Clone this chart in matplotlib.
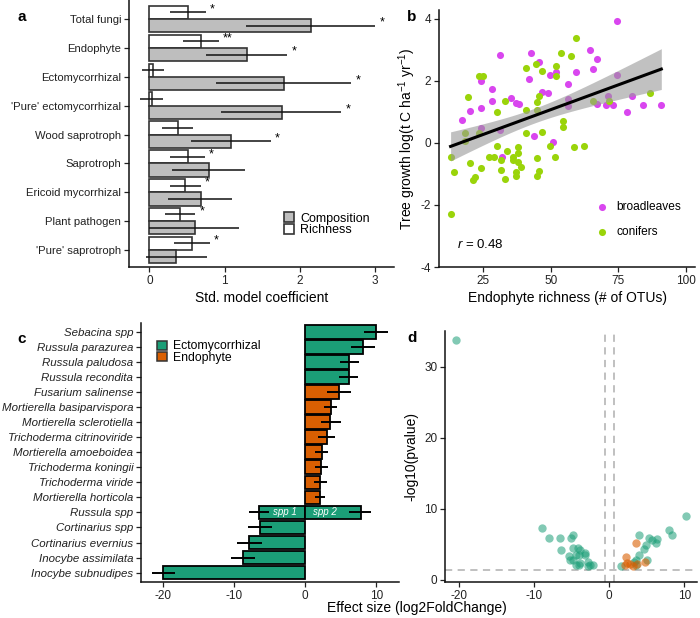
import matplotlib
matplotlib.use('Agg')
import matplotlib.pyplot as plt
import numpy as np
from matplotlib.patches import Patch

plt.rcParams.update({
    'font.family': ['Liberation Sans', 'DejaVu Sans'],
    'axes.unicode_minus': False,
    'mathtext.fontset': 'custom',
    'mathtext.rm': 'Liberation Sans',
    'mathtext.it': 'Liberation Sans:italic',
})

# ---- panel a: standardised model coefficients
groups = ['Total fungi', 'Endophyte', 'Ectomycorrhizal', "'Pure' ectomycorrhizal",
          'Wood saprotroph', 'Saprotroph', 'Ericoid mycorrhizal', 'Plant pathogen',
          "'Pure' saprotroph"]
rich = [0.52, 0.69, 0.05, 0.03, 0.38, 0.51, 0.47, 0.41, 0.57]
rich_lo = [0.28, 0.45, -0.10, -0.12, 0.17, 0.28, 0.27, 0.21, 0.33]
rich_hi = [0.75, 0.92, 0.20, 0.18, 0.58, 0.74, 0.68, 0.61, 0.80]
rich_sig = ['*', '**', '', '', '', '*', '*', '*', '*']
comp = [2.15, 1.30, 1.79, 1.76, 1.09, 0.79, 0.69, 0.61, 0.36]
comp_lo = [1.29, 0.75, 0.89, 0.95, 0.55, 0.30, 0.25, 0.00, -0.05]
comp_hi = [3.00, 1.83, 2.68, 2.55, 1.61, 1.27, 1.10, 1.19, 0.77]
comp_sig = ['*', '*', '*', '*', '*', '', '', '', '']

# ---- panel b: tree growth vs endophyte richness
broad_x = [74.4, 64.4, 42.7, 31.0, 45.7, 65.6, 67.3, 51.8, 59.5, 49.6, 74.4, 41.8, 24.1,
           56.5, 28.0, 46.8, 48.9, 35.1, 28.0, 56.5, 37.0, 38.2, 56.5, 67.3, 70.4, 73.2,
           71.3, 80.0, 84.3, 91.0, 78.4, 24.1, 20.0, 17.2, 24.1, 31.0, 43.8, 50.7, 31.8]
broad_y = [3.95, 3.0, 2.9, 2.85, 2.6, 2.4, 2.7, 2.3, 2.3, 2.2, 2.2, 2.05, 2.0,
           1.9, 1.75, 1.65, 1.6, 1.45, 1.35, 1.43, 1.29, 1.25, 1.18, 1.25, 1.23, 1.23,
           1.5, 1.5, 1.23, 1.23, 1.0, 1.12, 1.02, 0.75, 0.49, 0.41, 0.24, 0.03, -0.44]
conif_x = [59.5, 53.6, 57.5, 40.9, 44.5, 51.8, 46.8, 51.8, 23.2, 25.0, 86.9, 71.6, 65.5,
           19.3, 32.9, 45.7, 44.8, 30.2, 40.9, 44.8, 54.6, 54.6, 18.0, 23.2, 18.0, 40.9,
           46.7, 12.8, 29.9, 49.8, 58.5, 62.4, 37.9, 33.9, 37.9, 27.1, 29.0, 36.0, 44.8,
           51.6, 31.6, 36.0, 37.8, 20.0, 24.1, 38.9, 31.6, 45.7, 37.0, 44.8, 14.1, 21.9,
           21.1, 32.9, 37.0, 12.8]
conif_y = [3.4, 2.9, 2.8, 2.43, 2.55, 2.48, 2.31, 2.15, 2.15, 2.15, 1.6, 1.37, 1.37,
           1.48, 1.37, 1.53, 1.32, 1.0, 1.05, 1.05, 0.72, 0.53, 0.31, 0.31, 0.08, 0.31,
           0.37, -0.44, -0.1, -0.1, -0.14, -0.1, -0.14, -0.27, -0.33, -0.44, -0.44, -0.44, -0.49,
           -0.44, -0.54, -0.54, -0.6, -0.63, -0.82, -0.77, -0.88, -0.9, -0.95, -1.05, -0.93, -1.11,
           -1.19, -1.15, -1.06, -2.3]

# ---- panel c: differential abundance
species = ['Sebacina spp', 'Russula parazurea', 'Russula paludosa', 'Russula recondita',
           'Fusarium salinense', 'Mortierella basiparvispora', 'Mortierella sclerotiella',
           'Trichoderma citrinoviride', 'Mortierella amoeboidea', 'Trichoderma koningii',
           'Trichoderma viride', 'Mortierella horticola', 'Russula spp', 'Cortinarius spp',
           'Cortinarius evernius', 'Inocybe assimilata', 'Inocybe subnudipes']
bar_species = species[:12] + ['Russula spp', 'Russula spp'] + species[13:]
bar_tag = [''] * 12 + ['spp 1', 'spp 2'] + [''] * 4
bar_lfc = [10.0, 8.1, 6.2, 6.1, 4.8, 3.6, 3.5, 3.0, 2.3, 2.2, 2.1, 2.1,
           -6.5, 7.8, -6.4, -7.9, -8.8, -20.0]
bar_lo = [8.3, 6.4, 4.9, 4.7, 3.1, 2.7, 2.2, 1.8, 1.4, 1.4, 1.3, 1.4,
          -7.9, 6.2, -8.0, -9.6, -10.5, -21.6]
bar_hi = [11.6, 9.8, 7.6, 7.5, 6.5, 4.5, 5.0, 4.2, 3.2, 3.2, 3.1, 2.8,
          -5.1, 9.2, -4.7, -6.1, -7.1, -18.3]
bar_guild = ['Ectomycorrhizal'] * 4 + ['Endophyte'] * 8 + ['Ectomycorrhizal'] * 6

# ---- panel d: volcano plot
ecm_lfc = [-20.4, 10.2, -9.0, -8.0, -6.6, -6.5, -5.1, -4.8, -4.8, -4.2, -3.9, -3.2, -3.2,
           -5.4, -5.2, -4.5, -4.1, -4.9, -3.9, -4.4, -4.1, -2.9, -2.9, -2.2, -2.6,
           3.9, 5.3, 5.7, 6.3, 6.2, 7.9, 8.3, 4.9, 4.6, 4.0, 3.6, 3.3, 5.0, 1.5, 3.6]
ecm_p = [33.8, 9.0, 7.2, 5.8, 5.9, 4.1, 5.8, 6.2, 4.5, 4.5, 4.1, 3.8, 3.5,
         3.3, 2.8, 3.5, 3.5, 2.7, 2.3, 2.0, 2.0, 2.5, 1.9, 2.0, 2.0,
         6.2, 5.8, 5.6, 5.7, 5.2, 7.0, 6.2, 4.9, 4.3, 3.4, 2.8, 2.5, 2.8, 1.9, 2.0]
endo_lfc = [3.6, 2.2, 2.3, 2.7, 3.1, 3.7, 4.8, 2.1]
endo_p = [5.2, 3.2, 2.3, 2.2, 1.9, 2.2, 2.5, 2.0]

guild_col = {'Ectomycorrhizal': '#1B9E77', 'Endophyte': '#D95F02'}
tick_col = '#222222'

fig = plt.figure(figsize=(7, 6.18), dpi=100)
W, H = 700, 618


def add_ax(l, t, r, b):
    return fig.add_axes([l / W, 1 - b / H, (r - l) / W, (b - t) / H])


def classic(ax):
    for s in ['top', 'right']:
        ax.spines[s].set_visible(False)
    for s in ['left', 'bottom']:
        ax.spines[s].set_linewidth(1.1)
        ax.spines[s].set_color('#111111')
    ax.tick_params(labelsize=8.5, length=3.5, width=0.9, colors=tick_col, pad=2)


# ---------------- a
ax = add_ax(129, 0, 394, 267)
classic(ax)
pos = np.arange(len(groups))
h = 0.46
ax.barh(pos - h / 2, rich, h, color='white', edgecolor='#333333', linewidth=1.2)
ax.barh(pos + h / 2, comp, h, color='#BEBEBE', edgecolor='#333333', linewidth=1.2)
ax.hlines(pos - h / 2, rich_lo, rich_hi, color='#111111', lw=1.1)
ax.hlines(pos + h / 2, comp_lo, comp_hi, color='#111111', lw=1.1)
for i in range(len(groups)):
    if rich_sig[i]:
        ax.annotate(rich_sig[i], (rich_hi[i], pos[i] - h / 2), xytext=(3, 2),
                    textcoords='offset points', fontsize=9, va='center', ha='left')
    if comp_sig[i]:
        ax.annotate(comp_sig[i], (comp_hi[i], pos[i] + h / 2), xytext=(3, 2),
                    textcoords='offset points', fontsize=9, va='center', ha='left')
ax.set_yticks(pos)
ax.set_yticklabels(groups, fontsize=8.1)
ax.set_ylim(8.59, -0.66)
ax.set_xlim(-0.27, 3.25)
ax.set_xticks([0, 1, 2, 3])
ax.set_xlabel('Std. model coefficient', fontsize=10, labelpad=3)
ax.legend(handles=[Patch(facecolor='#BEBEBE', edgecolor='#333333', lw=1.2, label='Composition'),
                   Patch(facecolor='white', edgecolor='#333333', lw=1.2, label='Richness')],
          loc='center left', bbox_to_anchor=(0.56, 0.16), frameon=False, fontsize=9,
          handlelength=0.8, handleheight=0.8, handletextpad=0.5, labelspacing=-0.05,
          borderpad=0)

# ---------------- b
ax = add_ax(439, 10, 695, 267)
classic(ax)
ax.scatter(broad_x, broad_y, s=26, color='#D946EF', linewidths=0, zorder=2, label='broadleaves')
ax.scatter(conif_x, conif_y, s=26, color='#9AD40A', linewidths=0, zorder=2, label='conifers')
xa = np.array(broad_x + conif_x)
ya = np.array(broad_y + conif_y)
n = len(xa)
slope, icpt = np.polyfit(xa, ya, 1)
xs = np.linspace(xa.min(), xa.max(), 100)
yfit = icpt + slope * xs
resid = ya - (icpt + slope * xa)
se_r = np.sqrt(np.sum(resid ** 2) / (n - 2))
se_fit = se_r * np.sqrt(1 / n + (xs - xa.mean()) ** 2 / np.sum((xa - xa.mean()) ** 2))
ax.fill_between(xs, yfit - 1.99 * se_fit, yfit + 1.99 * se_fit, color='#999999', alpha=0.6,
                linewidth=0, zorder=3)
ax.plot(xs, yfit, color='black', lw=2.2, zorder=4)
ax.set_xlim(8.5, 103.5)
ax.set_ylim(-4, 4.29)
ax.set_xticks([25, 50, 75, 100])
ax.set_yticks([-4, -2, 0, 2, 4])
ax.set_xlabel('Endophyte richness (# of OTUs)', fontsize=10, labelpad=3)
ax.set_ylabel('Tree growth log(t C ha$^{\\mathrm{-1}}$ yr$^{\\mathrm{-1}}$)', fontsize=10, labelpad=2)
ax.text(0.07, 0.075, '$r$ = 0.48', transform=ax.transAxes, fontsize=9.5)
ax.legend(loc='center left', bbox_to_anchor=(0.6, 0.185), frameon=False, fontsize=8.6,
          handlelength=0.6, handletextpad=0.9, labelspacing=1.1, borderpad=0)

# ---------------- c
ax = add_ax(141, 323, 399, 582)
classic(ax)
row = {sp: i for i, sp in enumerate(species)}
yb = np.array([row[s] for s in bar_species])
ax.barh(yb, bar_lfc, 0.9, color=[guild_col[g] for g in bar_guild], edgecolor='black',
        linewidth=1.3, zorder=2)
ax.hlines(yb, bar_lo, bar_hi, color='black', lw=1.4, zorder=3)
for y, v, t in zip(yb, bar_lfc, bar_tag):
    if t:
        ax.text(np.sign(v) * 2.8, y, t, color='white', style='italic', fontsize=7,
                ha='center', va='center', zorder=4)
ax.set_yticks(np.arange(len(species)))
ax.set_yticklabels(species, style='italic', fontsize=8.25)
ax.set_ylim(16.62, -0.58)
ax.set_xlim(-23.1, 13.2)
ax.set_xticks([-20, -10, 0, 10])
ax.legend(handles=[Patch(facecolor=guild_col['Ectomycorrhizal'], edgecolor='#333333', lw=1.1,
                         label='Ectomycorrhizal'),
                   Patch(facecolor=guild_col['Endophyte'], edgecolor='#333333', lw=1.1,
                         label='Endophyte')],
          loc='center left', bbox_to_anchor=(0.04, 0.888), frameon=False, fontsize=8.8,
          handlelength=0.75, handleheight=0.75, handletextpad=0.5, labelspacing=-0.05,
          borderpad=0)
fig.text(417 / W, 1 - 608 / H, 'Effect size (log2FoldChange)', fontsize=10,
         ha='center', va='center')

# ---------------- d
ax = add_ax(445, 331, 697, 582)
classic(ax)
ax.axvline(-0.6, color='#BBBBBB', lw=1.3, ls=(0, (4, 3)), zorder=1)
ax.axvline(0.6, color='#BBBBBB', lw=1.3, ls=(0, (4, 3)), zorder=1)
ax.axhline(-np.log10(0.05), color='#BBBBBB', lw=1.3, ls=(0, (4, 3)), zorder=1)
ax.scatter(ecm_lfc, ecm_p, s=36, color=guild_col['Ectomycorrhizal'], alpha=0.55,
           linewidths=0, zorder=2)
ax.scatter(endo_lfc, endo_p, s=36, color=guild_col['Endophyte'], alpha=0.6,
           linewidths=0, zorder=2)
ax.set_xlim(-21.9, 11.7)
ax.set_ylim(-0.35, 35)
ax.set_xticks([-20, -10, 0, 10])
ax.set_yticks([0, 10, 20, 30])
ax.set_ylabel('-log10(pvalue)', fontsize=10, labelpad=4)

# panel letters
for lab, x, y in [('a', 22, 17), ('b', 412, 17), ('c', 22, 339), ('d', 412, 338)]:
    fig.text(x / W, 1 - y / H, lab, fontsize=11, fontweight='bold', ha='center', va='center')

fig.savefig('out.png', dpi=100)
